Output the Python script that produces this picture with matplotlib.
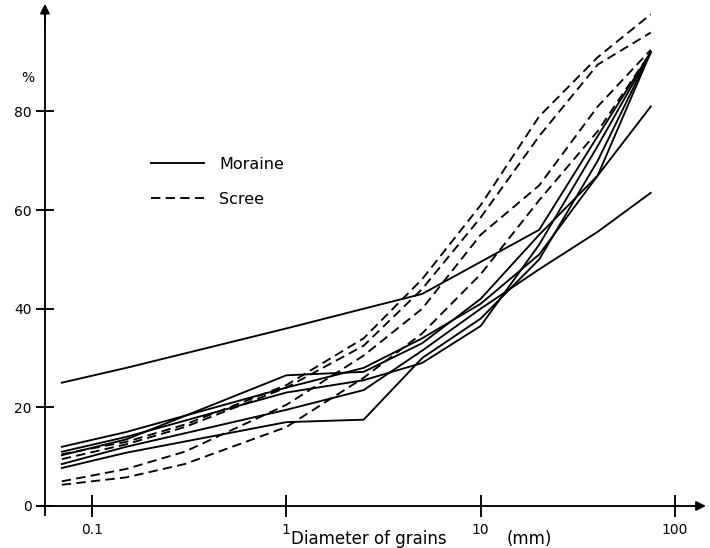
import matplotlib
matplotlib.use('Agg')
import matplotlib.pyplot as plt
from matplotlib.ticker import NullLocator, FixedLocator, FixedFormatter

# ---------------- data ----------------
moraine_d = [0.07, 0.15, 1, 2.5, 5, 10, 20, 40, 75]
moraine_1 = [25.0, 28.0, 36.0, 40.0, 43.0, 49.5, 56.0, 75.0, 92.0]
moraine_2 = [8.5, 12.0, 19.5, 23.5, 31.5, 40.0, 48.0, 55.6, 63.5]
moraine_3 = [7.7, 10.8, 17.0, 17.5, 30.0, 38.0, 50.0, 70.0, 92.0]
moraine_4 = [10.3, 13.5, 26.5, 27.2, 33.0, 42.0, 55.0, 67.0, 81.0]
moraine_5 = [12.0, 15.0, 24.0, 28.0, 34.0, 41.0, 51.0, 67.0, 92.0]
moraine_6 = [11.0, 14.0, 23.0, 25.5, 29.0, 36.5, 53.0, 73.0, 92.0]

scree_d = [0.07, 0.15, 0.3, 1, 2.5, 5, 10, 20, 40, 75]
scree_1 = [10.5, 13.0, 16.5, 24.5, 34.0, 46.0, 61.0, 79.0, 91.0, 99.7]
scree_2 = [9.5, 12.5, 16.0, 24.0, 32.5, 44.0, 58.5, 75.0, 89.5, 96.0]
scree_3 = [5.0, 7.5, 11.0, 20.5, 30.5, 40.0, 55.0, 65.0, 81.0, 92.5]
scree_4 = [4.3, 5.8, 8.5, 16.0, 26.0, 35.0, 47.0, 62.0, 76.0, 92.0]

y_ticks = [0, 20, 40, 60, 80]
y_tick_labels = ['0', '20', '40', '60', '80']
x_ticks = [0.1, 1, 10, 100]
x_tick_labels = ['0.1', '1', '10', '100']

moraine_series = [moraine_1, moraine_2, moraine_3, moraine_4, moraine_5, moraine_6]
scree_series = [scree_1, scree_2, scree_3, scree_4]

# ---------------- figure ----------------
W, H = 710, 548
fig = plt.figure(figsize=(W / 100, H / 100), dpi=100)
fig.patch.set_facecolor('white')
ax = fig.add_axes([0, 0, 1, 1])
ax.set_facecolor('white')
ax.set_xscale('log')
ax.set_xlim(0.03365, 151.3)
ax.set_ylim(-8.52, 102.6)

LW = 1.35
y_axis_x = 0.0573

for i, s in enumerate(moraine_series):
    ax.plot(moraine_d, s, color='black', lw=LW, solid_joinstyle='miter',
            label='Moraine' if i == 0 else None)
for i, s in enumerate(scree_series):
    ax.plot(scree_d, s, color='black', lw=LW, linestyle=(0, (5, 2.8)),
            label='Scree' if i == 0 else None)

# axes as crossing lines with arrows
for side in ('top', 'right'):
    ax.spines[side].set_visible(False)
ax.spines['left'].set_position(('data', y_axis_x))
ax.spines['bottom'].set_position(('data', 0))
ax.spines['left'].set_bounds(-1.8, 100)
ax.spines['bottom'].set_bounds(0.0527, 140)
for side in ('left', 'bottom'):
    ax.spines[side].set_linewidth(LW)

ax.xaxis.set_major_locator(FixedLocator(x_ticks))
ax.xaxis.set_major_formatter(FixedFormatter(x_tick_labels))
ax.xaxis.set_minor_locator(NullLocator())
ax.yaxis.set_major_locator(FixedLocator(y_ticks))
ax.yaxis.set_major_formatter(FixedFormatter(y_tick_labels))
ax.tick_params(axis='x', direction='inout', length=16, width=LW, pad=4, labelsize=10)
ax.tick_params(axis='y', direction='inout', length=13, width=LW, pad=3, labelsize=10)

ax.annotate('', xy=(y_axis_x, 102.4), xytext=(y_axis_x, 97),
            arrowprops=dict(arrowstyle='-|>', color='black', lw=LW, mutation_scale=14))
ax.annotate('', xy=(149, 0), xytext=(120, 0),
            arrowprops=dict(arrowstyle='-|>', color='black', lw=LW, mutation_scale=14))

fig.text(28 / W, 1 - 78 / H, '%', ha='center', va='center', fontsize=10)
fig.text(291 / W, 1 - 539 / H, 'Diameter of grains', ha='left', va='center', fontsize=12)
fig.text(507 / W, 1 - 539 / H, '(mm)', ha='left', va='center', fontsize=12)

ax.legend(loc='upper left', bbox_to_anchor=(151 / W, 1 - 157 / H), bbox_transform=fig.transFigure,
          frameon=False, handlelength=3.3, handletextpad=0.95, labelspacing=1.25,
          borderpad=0, borderaxespad=0, fontsize=11.5)

fig.savefig('out.png', dpi=100, facecolor='white')
